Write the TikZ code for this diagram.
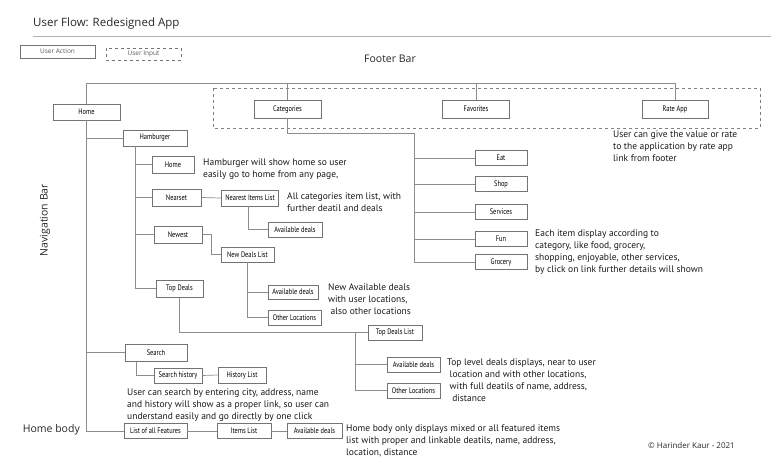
\documentclass[tikz,border=0pt]{standalone}
\usepackage{fontspec}
\setmainfont{PT Sans}
\newfontfamily\titlefont{Open Sans}
\newfontfamily\boxfont[FakeStretch=0.8]{PT Sans}
\usetikzlibrary{calc}

\tikzset{
  flowbox/.style={draw=black!55, line width=0.6pt, minimum height=15pt, inner sep=0pt,
    text=black, font=\boxfont\fontsize{8}{9}\selectfont},
  link/.style={draw=black!45, line width=0.7pt},
  note/.style={anchor=north west, align=left, inner sep=0pt, text=black!90,
    font=\fontsize{9.5}{11.7}\selectfont},
  headtext/.style={inner sep=0pt, text=black!85, font=\titlefont\fontsize{10.5}{12}\selectfont},
  keybox/.style={draw=black!55, line width=0.5pt, inner sep=0pt, text=black!65,
    font=\titlefont\fontsize{6.5}{8}\selectfont}
}

\begin{document}
\begin{tikzpicture}[x=1pt,y=-1pt]
  %%%%% START %%%%%
  \useasboundingbox (0,0) rectangle (771,474);

  % title and key
  \node[headtext, anchor=west, font=\titlefont\fontsize{11.5}{13}\selectfont] (title) at (33,24) {User Flow: Redesigned App};
  \draw[black!30, line width=0.6pt] (33,36) -- (771,36);
  \node[keybox, minimum width=75pt, minimum height=13pt] (keyaction) at (57.5,51.5) {User Action};
  \node[keybox, dashed, minimum width=75pt, minimum height=12pt] (keyinput) at (143.5,54) {User Input};

  % footer bar
  \node[headtext] (footer) at (390,59) {Footer Bar};
  \draw[black!50, dashed, line width=0.5pt] (213,88) rectangle (760,128);
  \coordinate (ftop) at (0,83);

  \node[flowbox, minimum width=67pt, minimum height=16pt] (home) at (86.5,112) {Home};
  \node[flowbox, minimum width=67pt, minimum height=18pt] (cat) at (287.5,109) {Categories};
  \node[flowbox, minimum width=67pt, minimum height=18pt] (fav) at (476,109) {Favorites};
  \node[flowbox, minimum width=66pt, minimum height=18pt] (rate) at (675,109) {Rate App};

  \draw[link] (home.north) |- (rate.north |- ftop) -- (rate.north);
  \draw[link] (cat.north) -- (cat.north |- ftop);
  \draw[link] (fav.north) -- (fav.north |- ftop);

  \node[note] (ratenote) at (613,131) {User can give the value or rate\\to the application by rate app\\link from footer};

  % categories
  \node[flowbox, minimum width=52pt] (eat) at (501,158) {Eat};
  \node[flowbox, minimum width=52pt] (shop) at (501,184) {Shop};
  \node[flowbox, minimum width=52pt] (services) at (501,212) {Services};
  \node[flowbox, minimum width=52pt] (fun) at (501,239) {Fun};
  \node[flowbox, minimum width=52pt] (grocery) at (501,262) {Grocery};
  \coordinate (catbus) at (414,133);

  \draw[link] (cat.south) |- (catbus) -- (catbus |- grocery.west) -- (grocery.west);
  \foreach \n in {eat,shop,services,fun}
    \draw[link] (catbus |- \n.west) -- (\n.west);

  \node[note] (funnote) at (535,230) {Each item display according to\\category, like food, grocery,\\shopping, enjoyable, other services,\\by click on link further details will shown};

  % navigation bar
  \node[headtext, rotate=90] (navbar) at (45,220) {Navigation Bar};
  \node[headtext, anchor=east] (homebody) at (80,430) {Home body};

  \node[flowbox, minimum width=64pt, minimum height=16pt] (ham) at (155,138) {Hamburger};
  \node[flowbox, minimum width=62pt, minimum height=17pt] (search) at (156,352.5) {Search};
  \node[flowbox, minimum width=63pt] (feat) at (155.5,431) {List of all Features};

  \draw[link] (home.south) -- (home.south |- feat.west) -- (feat.west);
  \draw[link] (home.south |- ham.west) -- (ham.west);
  \draw[link] (home.south |- search.west) -- (search.west);

  % hamburger
  \node[flowbox, minimum width=42pt, minimum height=17pt] (hhome) at (173,164.5) {Home};
  \node[flowbox, minimum width=49pt, minimum height=17pt] (near) at (176.5,197.5) {Nearset};
  \node[flowbox, minimum width=48pt, minimum height=17pt] (newest) at (178,234.5) {Newest};
  \node[flowbox, minimum width=47pt, minimum height=17pt] (top) at (179.5,288.5) {Top Deals};
  \coordinate (hambus) at ($(ham.south west)+(13,0)$);

  \draw[link] (hambus) |- (top.west);
  \foreach \n in {hhome,near,newest}
    \draw[link] (hambus |- \n.west) -- (\n.west);

  \node[note] (hamnote) at (203,159) {Hamburger will show home so user\\easily go to home from any page,};

  % nearest
  \node[flowbox, minimum width=57pt, minimum height=16pt] (nearlist) at (250,198) {Nearest Items List};
  \node[flowbox, minimum width=54pt] (nearavail) at (295,229.5) {Available deals};
  \draw[link] (near.east) -- (nearlist.west);
  \draw[link] ([xshift=-2pt]nearlist.south) |- (nearavail.west);
  \node[note] (nearnote) at (287,193) {All categories item list, with\\further deatil and deals};

  % newest
  \node[flowbox, minimum width=53pt] (newlist) at (247.5,254.5) {New Deals List};
  \node[flowbox, minimum width=50pt, minimum height=14pt] (newavail) at (293,292) {Available deals};
  \node[flowbox, minimum width=53pt] (newother) at (294.5,317.5) {Other Locations};
  \draw[link] (newest.east) -| ([xshift=-9pt]newlist.west) -- (newlist.west);
  \draw[link] (newlist.south) |- (newother.west);
  \draw[link] (newlist.south |- newavail.west) -- (newavail.west);
  \node[note] (newnote) at (328,284) {New Available deals\\with user locations,\\\ also other locations};

  % top deals
  \node[flowbox, minimum width=54pt] (toplist) at (395,332.5) {Top Deals List};
  \node[flowbox, minimum width=53pt] (topavail) at (413.5,364.5) {Available deals};
  \node[flowbox, minimum width=53pt] (topother) at (413.5,390.5) {Other Locations};
  \coordinate (topbus) at (355,332.5);
  \draw[link] (top.south) |- (toplist.west);
  \draw[link] (topbus) |- (topother.west);
  \draw[link] (topbus |- topavail.west) -- (topavail.west);
  \node[note] (topnote) at (447,359) {Top level deals displays, near to user\\\ location and with other locations,\\\ with full deatils of name, address,\\\ \ distance};

  % search
  \node[flowbox, minimum width=48pt] (shist) at (178,375.5) {Search history};
  \node[flowbox, minimum width=48pt, minimum height=16pt] (hlist) at (242,375) {History List};
  \draw[link] ([xshift=12pt]search.south west) |- (shist.west);
  \draw[link] (shist.east) -- (hlist.west);
  \node[note] (searchnote) at (127,389) {User can search by entering city, address, name\\and history will show as a proper link, so user can\\understand easily and go directly by one click};

  % home body
  \node[flowbox, minimum width=54pt] (items) at (244,431) {Items List};
  \node[flowbox, minimum width=55pt] (itemsavail) at (314.5,431) {Available deals};
  \draw[link] (feat.east) -- (items.west);
  \draw[link] (items.east) -- (itemsavail.west);
  \node[note] (bodynote) at (346,425) {Home body only displays mixed or all featured items\\list with proper and linkable deatils, name, address,\\location, distance};

  \node[headtext, anchor=west, font=\titlefont\fontsize{8}{10}\selectfont] (copy) at (648,445) {© Harinder Kaur - 2021};
  %%%%% END %%%%%
\end{tikzpicture}
\end{document}
